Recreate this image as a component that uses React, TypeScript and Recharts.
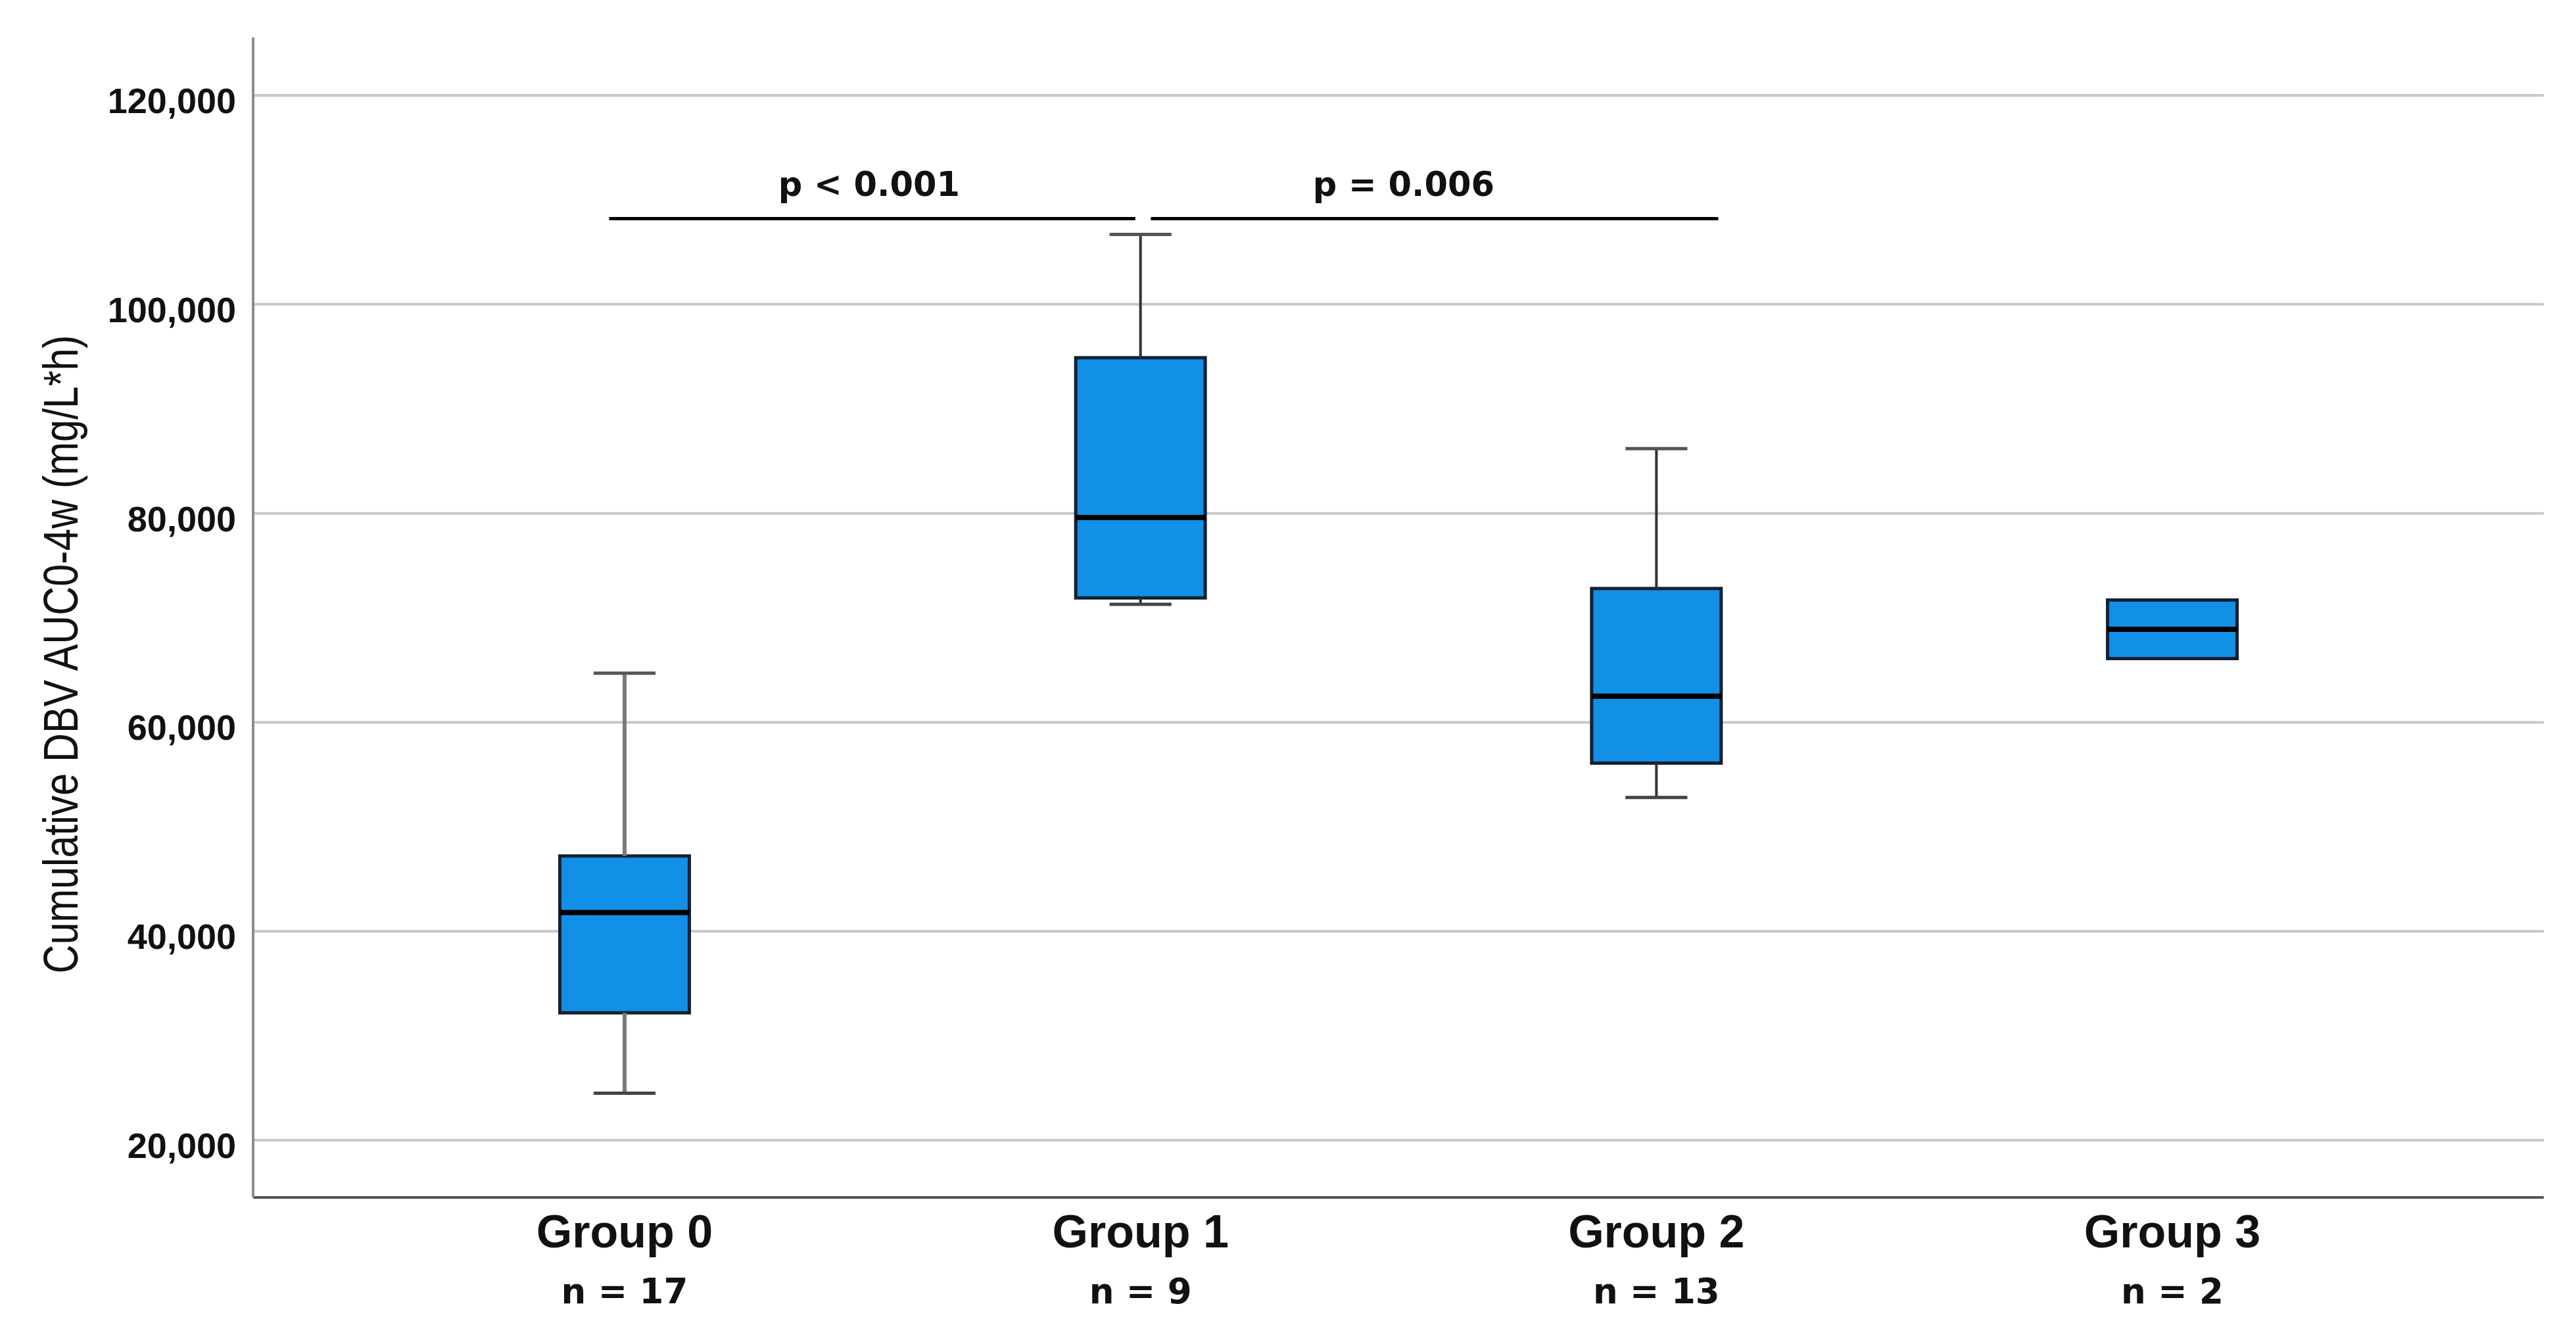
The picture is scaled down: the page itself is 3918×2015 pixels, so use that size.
import { ComposedChart, XAxis, YAxis, CartesianGrid, ReferenceArea, ReferenceLine, ReferenceDot } from 'recharts';

// Box plot summary per group
const groups = ['Group 0', 'Group 1', 'Group 2', 'Group 3'];
const nCounts = [17, 9, 13, 2];
const whiskerLow = [24500, 71300, 52800, 66100];
const q1 = [32200, 71900, 56100, 66100];
const medians = [41800, 79600, 62500, 68900];
const q3 = [47200, 94900, 72800, 71700];
const whiskerHigh = [64700, 106700, 86200, 71700];

const yTicks = [20000, 40000, 60000, 80000, 100000, 120000];
const Y_MIN = 14530;
const Y_MAX = 125540;

// significance brackets
const pLabels = ['p < 0.001', 'p = 0.006'];
const bracketFrom = [-0.03, 1.02];
const bracketTo = [0.99, 2.12];
const bracketLabelX = [0.474, 1.51];
const bracketY = 108200;
const bracketLabelY = 110400;

const BOX_HALF = 0.1255;
const CAP_HALF = 0.06;
const BOX_FILL = '#128fe6';

const MARGIN = { top: 49, right: 39, bottom: 0, left: 0 };
const X_AXIS_H = 187;
const CHART_H = 2000;

const boxData = groups.map((name, i) => ({
  x: i,
  name,
  n: nCounts[i],
  low: whiskerLow[i],
  q1: q1[i],
  median: medians[i],
  q3: q3[i],
  high: whiskerHigh[i],
}));

function GroupTick({ x, y, payload }: any) {
  const i = Math.round(payload.value);
  return (
    <g>
      <text
        x={x}
        y={y + 76}
        textAnchor="middle"
        fontFamily="'Liberation Sans', Arial, sans-serif"
        fontWeight={700}
        fontSize={70}
        fill="#111"
      >
        {groups[i]}
      </text>
      <text
        x={x}
        y={y + 161}
        textAnchor="middle"
        fontFamily="'DejaVu Sans', sans-serif"
        fontWeight={700}
        fontSize={53}
        fill="#111"
      >
        {`n = ${nCounts[i]}`}
      </text>
    </g>
  );
}

function ValueTick({ x, y, payload }: any) {
  return (
    <text
      x={x}
      y={y + 27}
      textAnchor="end"
      fontFamily="'Liberation Sans', Arial, sans-serif"
      fontWeight={700}
      fontSize={54}
      fill="#111"
    >
      {Number(payload.value).toLocaleString('en-US')}
    </text>
  );
}

function YLabel({ viewBox }: any) {
  const x = viewBox.x + 110;
  const y = viewBox.y + viewBox.height / 2 + 56;
  return (
    <text
      transform={`translate(${x}, ${y}) rotate(-90)`}
      textAnchor="middle"
      fontFamily="'Liberation Sans Narrow', 'Liberation Sans', Arial, sans-serif"
      fontSize={74}
      textLength={971}
      lengthAdjust="spacingAndGlyphs"
      fill="#111"
    >
      Cumulative DBV AUC0-4w (mg/L*h)
    </text>
  );
}

function PLabel(text: string) {
  return (props: any) => (
    <text
      x={props.cx}
      y={props.cy}
      textAnchor="middle"
      fontFamily="'DejaVu Sans', sans-serif"
      fontWeight={700}
      fontSize={51}
      fill="#111"
    >
      {text}
    </text>
  );
}

// only draw grid lines at the value ticks (no line at the plot's top edge)
function gridRows(args: any) {
  const scale = args?.yAxis?.scale;
  if (typeof scale === 'function') {
    const pts = yTicks.map((t) => scale(t));
    if (pts.every((p) => Number.isFinite(p))) return pts;
  }
  if (scale && typeof scale.map === 'function') {
    const pts = yTicks.map((t) => scale.map(t));
    if (pts.every((p: any) => Number.isFinite(p))) return pts;
  }
  const top = args?.offset?.top ?? MARGIN.top;
  const h = args?.offset?.height ?? CHART_H - MARGIN.top - MARGIN.bottom - X_AXIS_H;
  return yTicks.map((t) => top + ((Y_MAX - t) / (Y_MAX - Y_MIN)) * h);
}

export default function App() {
  return (
    <div style={{ background: '#fff' }}>
      <ComposedChart width={3900} height={CHART_H} data={boxData} margin={MARGIN}>
        <CartesianGrid
          vertical={false}
          stroke="#c8c8c8"
          strokeWidth={4}
          horizontalCoordinatesGenerator={gridRows}
        />
        <XAxis
          dataKey="x"
          type="number"
          domain={[-0.72, 3.72]}
          ticks={[0, 1, 2, 3]}
          allowDataOverflow
          height={X_AXIS_H}
          tickLine={false}
          tickSize={0}
          tickMargin={0}
          axisLine={{ stroke: '#555', strokeWidth: 4 }}
          tick={<GroupTick />}
        />
        <YAxis
          type="number"
          domain={[Y_MIN, Y_MAX]}
          ticks={yTicks}
          allowDataOverflow
          width={377}
          tickLine={false}
          tickSize={0}
          tickMargin={26}
          axisLine={{ stroke: '#8c8c8c', strokeWidth: 4 }}
          tick={<ValueTick />}
          label={<YLabel />}
        />

        {/* whiskers */}
        {boxData.map((d) =>
          d.high > d.q3 ? (
            <ReferenceLine
              key={`hs-${d.x}`}
              segment={[{ x: d.x, y: d.q3 }, { x: d.x, y: d.high }]}
              stroke={d.x === 0 ? '#7a7a7a' : '#333'}
              strokeWidth={d.x === 0 ? 6 : 4}
              ifOverflow="visible"
            />
          ) : null
        )}
        {boxData.map((d) =>
          d.high > d.q3 ? (
            <ReferenceLine
              key={`hc-${d.x}`}
              segment={[{ x: d.x - CAP_HALF, y: d.high }, { x: d.x + CAP_HALF, y: d.high }]}
              stroke="#555"
              strokeWidth={5}
              ifOverflow="visible"
            />
          ) : null
        )}
        {boxData.map((d) =>
          d.low < d.q1 ? (
            <ReferenceLine
              key={`ls-${d.x}`}
              segment={[{ x: d.x, y: d.low }, { x: d.x, y: d.q1 }]}
              stroke={d.x === 0 ? '#7a7a7a' : '#333'}
              strokeWidth={d.x === 0 ? 6 : 4}
              ifOverflow="visible"
            />
          ) : null
        )}
        {boxData.map((d) =>
          d.low < d.q1 ? (
            <ReferenceLine
              key={`lc-${d.x}`}
              segment={[{ x: d.x - CAP_HALF, y: d.low }, { x: d.x + CAP_HALF, y: d.low }]}
              stroke="#444"
              strokeWidth={5}
              ifOverflow="visible"
            />
          ) : null
        )}

        {/* boxes */}
        {boxData.map((d) => (
          <ReferenceArea
            key={`box-${d.x}`}
            x1={d.x - BOX_HALF}
            x2={d.x + BOX_HALF}
            y1={d.q1}
            y2={d.q3}
            fill={BOX_FILL}
            fillOpacity={1}
            stroke="#102030"
            strokeWidth={5}
            ifOverflow="visible"
          />
        ))}

        {/* medians */}
        {boxData.map((d) => (
          <ReferenceLine
            key={`med-${d.x}`}
            segment={[{ x: d.x - BOX_HALF, y: d.median }, { x: d.x + BOX_HALF, y: d.median }]}
            stroke="#000"
            strokeWidth={8}
            ifOverflow="visible"
          />
        ))}

        {/* significance brackets */}
        {pLabels.map((p, i) => (
          <ReferenceLine
            key={`br-${i}`}
            segment={[{ x: bracketFrom[i], y: bracketY }, { x: bracketTo[i], y: bracketY }]}
            stroke="#000"
            strokeWidth={5}
            ifOverflow="visible"
          />
        ))}
        {pLabels.map((p, i) => (
          <ReferenceDot
            key={`pl-${i}`}
            x={bracketLabelX[i]}
            y={bracketLabelY}
            r={0}
            ifOverflow="visible"
            shape={PLabel(p)}
          />
        ))}
      </ComposedChart>
    </div>
  );
}
